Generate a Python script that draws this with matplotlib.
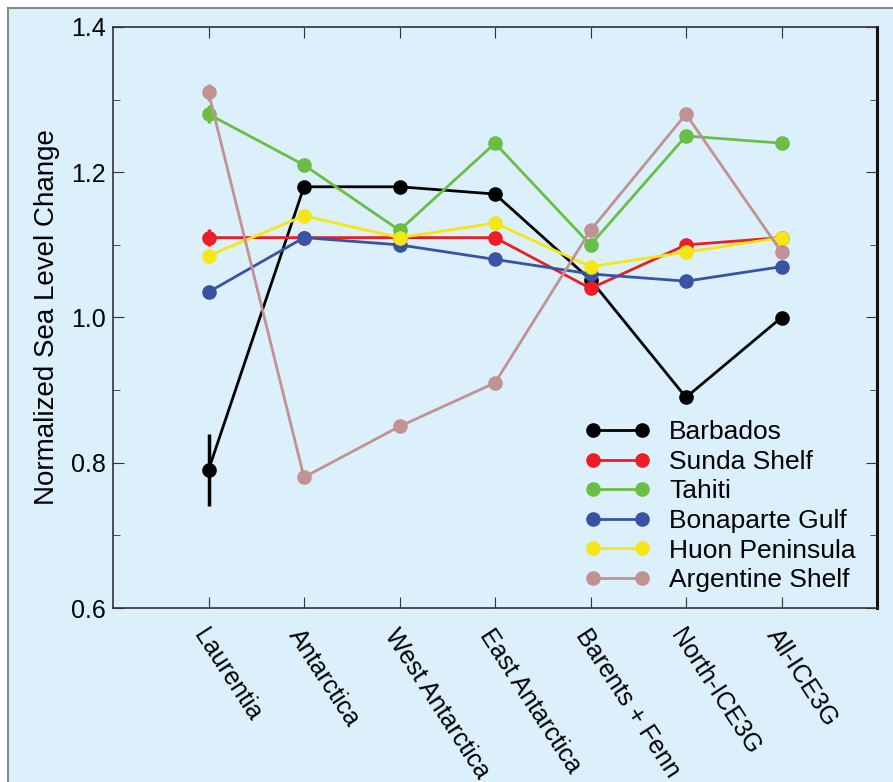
import matplotlib.pyplot as plt
import matplotlib.patches as patches
from matplotlib.ticker import MultipleLocator
from matplotlib.lines import Line2D
from matplotlib.legend_handler import HandlerLine2D
from matplotlib.transforms import ScaledTranslation

plt.rcParams['font.family'] = ['Liberation Sans', 'DejaVu Sans']

# --- Data ---
regions = ['Laurentia', 'Antarctica', 'West Antarctica', 'East Antarctica',
           'Barents + Fenn', 'North-ICE3G', 'All-ICE3G']
barbados = [0.79, 1.18, 1.18, 1.17, 1.052, 0.89, 1.00]
sunda = [1.11, 1.11, 1.11, 1.11, 1.04, 1.10, 1.11]
tahiti = [1.28, 1.21, 1.12, 1.24, 1.10, 1.25, 1.24]
bonaparte = [1.035, 1.11, 1.10, 1.08, 1.06, 1.05, 1.07]
huon = [1.085, 1.14, 1.11, 1.13, 1.07, 1.09, 1.11]
argentine = [1.31, 0.78, 0.85, 0.91, 1.12, 1.28, 1.09]
# error bars only at Laurentia
laurentia_err = {'Barbados': 0.05, 'Sunda Shelf': 0.012, 'Tahiti': 0.012,
                 'Bonaparte Gulf': 0.0, 'Huon Peninsula': 0.0, 'Argentine Shelf': 0.012}

series = [('Barbados', barbados, '#000000'),
          ('Sunda Shelf', sunda, '#ee1c25'),
          ('Tahiti', tahiti, '#6abd45'),
          ('Bonaparte Gulf', bonaparte, '#3953a4'),
          ('Huon Peninsula', huon, '#f5e617'),
          ('Argentine Shelf', argentine, '#c09292')]

bg = '#dbf0fb'

# --- Plotting ---
fig = plt.figure(figsize=(8.93, 7.82), dpi=100)
fig.patch.set_facecolor('white')
fig.patches.append(patches.Rectangle((8 / 893, -0.02), 1.0, 1 - 8 / 782 + 0.02,
                                     transform=fig.transFigure, facecolor=bg,
                                     edgecolor='#8a8a8a', linewidth=1.5, zorder=-10))

ax = fig.add_axes([113 / 893, 1 - 608 / 782, 764 / 893, 581 / 782])
ax.set_facecolor(bg)

x = list(range(len(regions)))
for name, vals, color in series:
    ax.plot(x, vals, '-o', color=color, lw=2, ms=9.5, label=name)
    err = laurentia_err[name]
    if err > 0:
        ax.errorbar([0], [vals[0]], yerr=[err], color=color, elinewidth=2.5,
                    capsize=0, fmt='none')

ax.set_xlim(-1, 7)
ax.set_ylim(0.6, 1.4)
ax.yaxis.set_major_locator(MultipleLocator(0.2))
ax.yaxis.set_minor_locator(MultipleLocator(0.1))
ax.set_yticklabels([f'{v:.1f}' for v in ax.get_yticks()])
ax.set_xticks(x)
ax.set_xticklabels(regions, rotation=-57, ha='left', va='top',
                   rotation_mode='anchor', fontsize=18)
shift = ScaledTranslation(7 / 72, 0, fig.dpi_scale_trans)
for lab in ax.get_xticklabels():
    lab.set_transform(lab.get_transform() + shift)

ax.tick_params(axis='both', which='both', direction='in', top=True, right=True,
               color='#333333')
ax.tick_params(axis='y', which='major', length=8, labelsize=18, pad=5)
ax.tick_params(axis='y', which='minor', length=5)
ax.tick_params(axis='x', which='major', length=8, pad=12)

for side in ['left', 'top', 'bottom']:
    ax.spines[side].set_color('#333333')
    ax.spines[side].set_linewidth(1.2)
ax.spines['right'].set_color('#111111')
ax.spines['right'].set_linewidth(2.2)

ax.set_ylabel('Normalized Sea Level Change', fontsize=20)
ax.yaxis.set_label_coords(-0.069, 0.5)

ax.legend(loc='upper left', bbox_to_anchor=(0.628, 0.323), frameon=False,
          fontsize=19, numpoints=2, handlelength=1.85, handletextpad=1.05,
          labelspacing=0.21, borderpad=0, borderaxespad=0,
          handler_map={Line2D: HandlerLine2D(marker_pad=0)})

plt.savefig('out.png', dpi=100)
